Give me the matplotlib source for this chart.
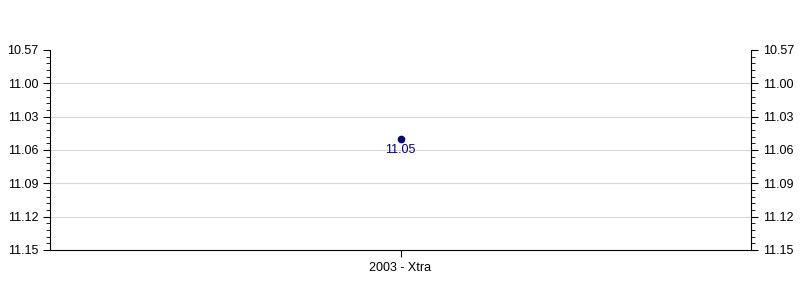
import matplotlib
matplotlib.use("Agg")
import matplotlib.pyplot as plt
from matplotlib.ticker import AutoMinorLocator

categories = ["2003 - Xtra"]
values = [11.05]
tick_values = [10.97, 11.00, 11.03, 11.06, 11.09, 11.12, 11.15]
tick_labels = ["10.57", "11.00", "11.03", "11.06", "11.09", "11.12", "11.15"]

plt.rcParams['font.family'] = ['Liberation Sans', 'DejaVu Sans']
fig = plt.figure(figsize=(8, 3), dpi=100)
ax = fig.add_axes([50/800, 50/300, 701/800, 200/300])

x = list(range(len(categories)))
ax.plot(x, values, 'o', color='#000080', markersize=4.5, zorder=3)
for xi, v in zip(x, values):
    ax.annotate(f"{v:.2f}", (xi, v), xytext=(0, -4), textcoords='offset points',
                ha='center', va='top', color='#000080', fontsize=9)

ax.set_xlim(-0.5, len(categories) - 0.5)
ax.set_ylim(tick_values[-1], tick_values[0])
ax.set_yticks(tick_values)
ax.set_yticklabels(tick_labels)
ax.set_xticks(x)
ax.set_xticklabels(categories)
ax.yaxis.set_minor_locator(AutoMinorLocator(5))
ax.grid(axis='y', which='major', color='#d8d8d8', linewidth=0.8)
ax.set_axisbelow(True)
ax.spines['top'].set_visible(False)
for s in ['left', 'right', 'bottom']:
    ax.spines[s].set_linewidth(0.8)
ax.tick_params(axis='y', which='both', left=True, right=True, labelleft=True, labelright=True,
               labelsize=9, direction='out')
ax.tick_params(axis='y', which='major', length=5)
ax.tick_params(axis='y', which='minor', length=3)
ax.tick_params(axis='x', labelsize=9, length=5)
fig.canvas.draw()
ax.yaxis.get_gridlines()[0].set_visible(False)

fig.savefig("out.png", dpi=100)
